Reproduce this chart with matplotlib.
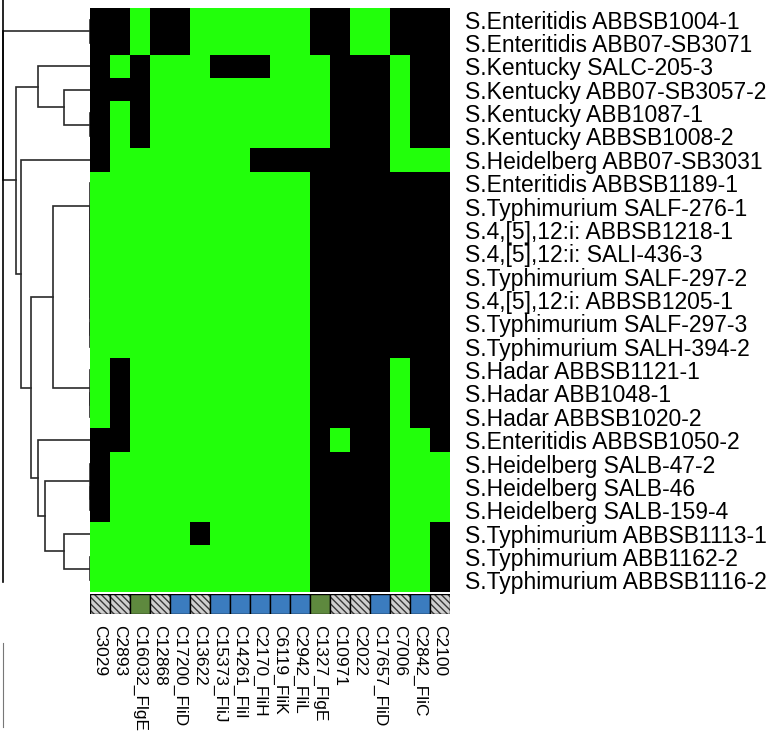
import matplotlib
matplotlib.use('Agg')
import matplotlib.pyplot as plt
import numpy as np
from matplotlib.colors import ListedColormap
from matplotlib.lines import Line2D

plt.rcParams['font.family'] = ['Liberation Sans', 'DejaVu Sans']

# Souches (lignes, de haut en bas)
souches = ['S.Enteritidis ABBSB1004-1', 'S.Enteritidis ABB07-SB3071', 'S.Kentucky SALC-205-3',
           'S.Kentucky ABB07-SB3057-2', 'S.Kentucky ABB1087-1', 'S.Kentucky ABBSB1008-2',
           'S.Heidelberg ABB07-SB3031', 'S.Enteritidis ABBSB1189-1', 'S.Typhimurium SALF-276-1',
           'S.4,[5],12:i: ABBSB1218-1', 'S.4,[5],12:i: SALI-436-3', 'S.Typhimurium SALF-297-2',
           'S.4,[5],12:i: ABBSB1205-1', 'S.Typhimurium SALF-297-3', 'S.Typhimurium SALH-394-2',
           'S.Hadar ABBSB1121-1', 'S.Hadar ABB1048-1', 'S.Hadar ABBSB1020-2',
           'S.Enteritidis ABBSB1050-2', 'S.Heidelberg SALB-47-2', 'S.Heidelberg SALB-46',
           'S.Heidelberg SALB-159-4', 'S.Typhimurium ABBSB1113-1', 'S.Typhimurium ABB1162-2',
           'S.Typhimurium ABBSB1116-2']

# Gènes (colonnes)
genes = ['C3029', 'C2893', 'C16032_FlgE', 'C12868', 'C17200_FliD', 'C13622', 'C15373_FliJ',
         'C14261_FliI', 'C2170_FliH', 'C6119_FliK', 'C2942_FliL', 'C1327_FlgE', 'C10971',
         'C2022', 'C17657_FliD', 'C7006', 'C2842_FliC', 'C2100']

# Catégorie de chaque gène (barre d'annotation)
categories = ['autre', 'autre', 'flg', 'autre', 'fli', 'autre', 'fli', 'fli', 'fli', 'fli',
              'fli', 'flg', 'autre', 'autre', 'fli', 'autre', 'fli', 'autre']

# 1 = présent (vert), 0 = absent (noir)
profils = ['001001111110011000',
           '001001111110011000',
           '010111000111000100',
           '000111111111000100',
           '010111111111000100',
           '010111111111000100',
           '011111110000000111',
           '111111111110000000',
           '111111111110000000',
           '111111111110000000',
           '111111111110000000',
           '111111111110000000',
           '111111111110000000',
           '111111111110000000',
           '111111111110000000',
           '101111111110000100',
           '101111111110000100',
           '101111111110000100',
           '001111111110100110',
           '011111111110000111',
           '011111111110000111',
           '011111111110000111',
           '111110111110000110',
           '111111111110000110',
           '111111111110000110']

# Topologie de l'arbre (indices des lignes), hauteurs calculées en lien complet
groupe_A = (7, (8, (9, (10, (11, (12, (13, 14)))))))
groupe_B = (15, (16, 17))
groupe_C = (19, (20, 21))
groupe_D = (23, 24)
arbre = ((0, 1),
         ((2, (3, (4, 5))),
          (6, ((groupe_A, groupe_B), (18, (groupe_C, (22, groupe_D)))))))

M = np.array([[int(c) for c in ligne] for ligne in profils])
n_l, n_c = M.shape


def feuilles(n):
    if isinstance(n, int):
        return [n]
    return feuilles(n[0]) + feuilles(n[1])


# distance euclidienne, lien complet
def hauteur(n):
    if isinstance(n, int):
        return 0.0
    a, b = feuilles(n[0]), feuilles(n[1])
    return max(np.sqrt(((M[i] - M[j]) ** 2).sum()) for i in a for j in b)


def tracer(ax, n):
    if isinstance(n, int):
        return n + 0.5, 0.0
    y1, h1 = tracer(ax, n[0])
    y2, h2 = tracer(ax, n[1])
    h = hauteur(n)
    ax.plot([h1, h, h, h2], [y1, y1, y2, y2], color='#2a2a2a', lw=1.2,
            solid_joinstyle='miter')
    return (y1 + y2) / 2, h


W, H = 776, 731
fig = plt.figure(figsize=(W / 100, H / 100), dpi=100)

# Carte de chaleur
ax = fig.add_axes([90 / W, 1 - 592 / H, 360 / W, 584 / H])
ax.pcolormesh(np.arange(n_c + 1), np.arange(n_l + 1), M,
              cmap=ListedColormap(['#000000', '#22ff0b']), vmin=0, vmax=1)
ax.set_xlim(0, n_c)
ax.set_ylim(n_l, 0)
ax.set_xticks([])
ax.set_yticks(np.arange(n_l) + 0.5, souches)
ax.yaxis.tick_right()
ax.tick_params(axis='y', length=0, pad=11, labelsize=16.5)
for s in ax.spines.values():
    s.set_visible(False)

# Dendrogramme des lignes
axd = fig.add_axes([0, 1 - 592 / H, 90 / W, 584 / H])
tracer(axd, arbre)
hmax = hauteur(arbre)
axd.set_xlim(hmax * 90 / 87, 0)
axd.set_ylim(n_l, 0)
axd.axvline(hmax, ymin=10 / 584, ymax=592 / 584, color='black', lw=1.2, clip_on=False)
axd.axis('off')

# petit trait en bas à gauche
fig.add_artist(Line2D([3 / W, 3 / W], [1 - 643 / H, 1 - 727 / H], color='#777777', lw=0.8))

# Barre d'annotation des gènes
couleurs = {'autre': '#cfcfcf', 'fli': '#3b7cbf', 'flg': '#5e893e'}
axa = fig.add_axes([90 / W, 1 - 614 / H, 360 / W, 20 / H])
for j, cat in enumerate(categories):
    if cat == 'autre':
        axa.bar(j + 0.5, 1, width=1, color=couleurs[cat], edgecolor='#383838',
                hatch='\\\\\\\\\\', linewidth=0)
    else:
        axa.bar(j + 0.5, 1, width=1, color=couleurs[cat], linewidth=0)
    axa.bar(j + 0.5, 1, width=1, fill=False, edgecolor='black', linewidth=1.0)
axa.set_xlim(0, n_c)
axa.set_ylim(0, 1)
axa.set_yticks([])
axa.set_xticks(np.arange(n_c) + 0.5, genes, rotation=270, fontsize=12.5)
axa.tick_params(axis='x', length=0, pad=8)
for s in axa.spines.values():
    s.set_visible(False)

fig.savefig('out.png', dpi=100)
